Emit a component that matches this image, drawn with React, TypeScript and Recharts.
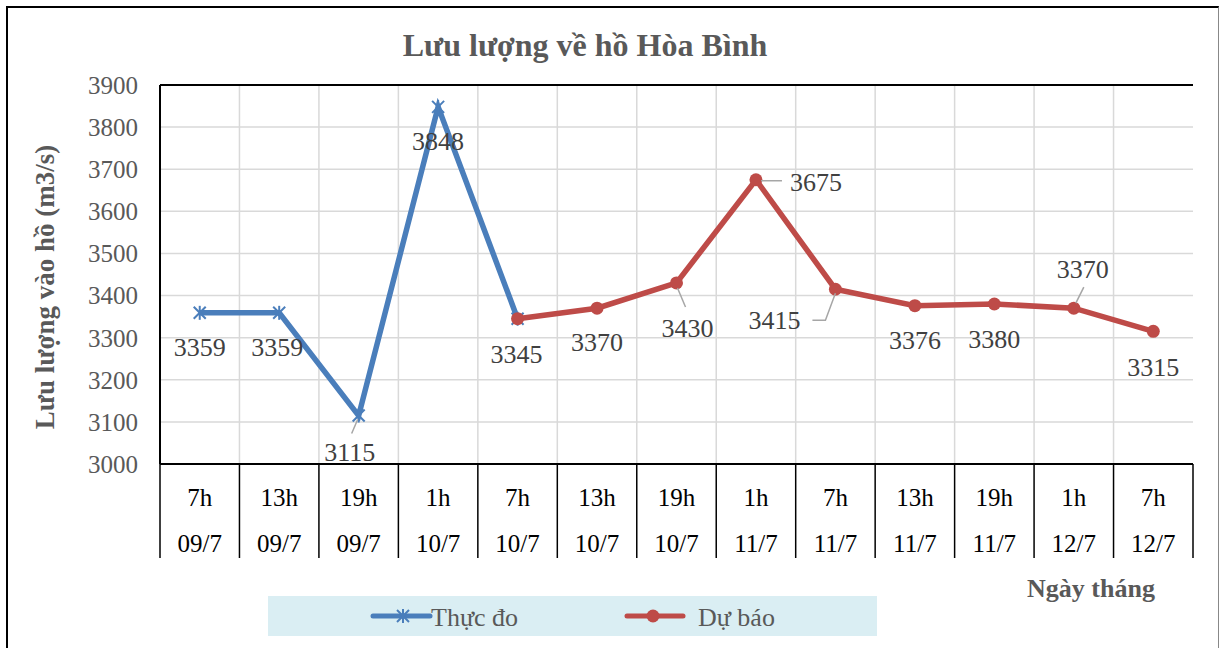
import React, { useEffect } from "react";
import {
	CartesianGrid,
	LabelList,
	Legend,
	Line,
	LineChart,
	ReferenceLine,
	XAxis,
	YAxis,
} from "recharts";

// categories: hour + date (two-level axis)
const hours = ["7h", "13h", "19h", "1h", "7h", "13h", "19h", "1h", "7h", "13h", "19h", "1h", "7h"];
const dates = ["09/7", "09/7", "09/7", "10/7", "10/7", "10/7", "10/7", "11/7", "11/7", "11/7", "11/7", "12/7", "12/7"];

// observed flow (m3/s)
const measured = [3359, 3359, 3115, 3848, 3345, null, null, null, null, null, null, null, null];
// forecast flow (m3/s)
const forecast = [null, null, null, null, 3345, 3370, 3430, 3675, 3415, 3376, 3380, 3370, 3315];

const yTicks = [3000, 3100, 3200, 3300, 3400, 3500, 3600, 3700, 3800, 3900];

const data = hours.map((h, i) => ({
	cat: `${h} ${dates[i]}`,
	hour: h,
	date: dates[i],
	measured: measured[i],
	forecast: forecast[i],
}));

// label offsets relative to the point: [dx, dy] of text centre, optional leader polyline
const labelPlacement: { dx: number; dy: number; leader?: number[][] }[] = [
	{ dx: 0, dy: 35 },
	{ dx: -2, dy: 35 },
	{ dx: -9, dy: 37, leader: [[-1, 4], [-7, 18]] },
	{ dx: 0, dy: 35 },
	{ dx: -1, dy: 36 },
	{ dx: 0, dy: 34 },
	{ dx: 11, dy: 46, leader: [[1, 5], [9, 24]] },
	{ dx: 60, dy: 3, leader: [[5, 1], [26, 1]] },
	{ dx: -61, dy: 31, leader: [[0, 4], [-10, 31], [-23, 31]] },
	{ dx: 0, dy: 35 },
	{ dx: 0, dy: 36 },
	{ dx: 9, dy: -39, leader: [[2, -5], [10, -21]] },
	{ dx: 0, dy: 36 },
];

const BLUE = "#4a7ebb";
const RED = "#be4b48";
const FONT = "'Liberation Serif', 'Times New Roman', serif";

const W = 1220;
const H = 648;
const M = { top: 85, right: 27, bottom: 90, left: 100 };
const PLOT_W = W - M.left - 60 - M.right;
const BAND = PLOT_W / hours.length;

function CategoryTick(props: any) {
	const { x, y, index } = props;
	const left = x - BAND / 2;
	const right = x + BAND / 2;
	return (
		<g>
			<line x1={left} y1={y} x2={left} y2={y + 94} stroke="#000" strokeWidth={1.5} />
			{index === hours.length - 1 && (
				<line x1={right} y1={y} x2={right} y2={y + 94} stroke="#000" strokeWidth={1.5} />
			)}
			<text x={x} y={y + 33} textAnchor="middle" dominantBaseline="central" fontSize={25} fill="#000" fontFamily={FONT}>
				{hours[index]}
			</text>
			<text x={x} y={y + 79} textAnchor="middle" dominantBaseline="central" fontSize={25} fill="#000" fontFamily={FONT}>
				{dates[index]}
			</text>
		</g>
	);
}

function StarDot(props: any) {
	const { cx, cy, value } = props;
	if (value == null || cx == null) return null;
	const s = 6;
	return (
		<g stroke={BLUE} strokeWidth={2}>
			<line x1={cx - s} y1={cy - s} x2={cx + s} y2={cy + s} />
			<line x1={cx - s} y1={cy + s} x2={cx + s} y2={cy - s} />
			<line x1={cx} y1={cy - s - 1} x2={cx} y2={cy + s + 1} />
		</g>
	);
}

function makeLabel(from: number, to: number) {
	return (props: any) => {
		const { x, y, value, index } = props;
		if (value == null || index < from || index > to) return null;
		const p = labelPlacement[index];
		return (
			<g>
				{p.leader && (
					<polyline
						points={p.leader.map(([a, b]) => `${x + a},${y + b}`).join(" ")}
						fill="none"
						stroke="#a6a6a6"
						strokeWidth={1.5}
					/>
				)}
				<text
					x={x + p.dx}
					y={y + p.dy}
					textAnchor="middle"
					dominantBaseline="central"
					fontSize={26}
					fill="#404040"
					fontFamily={FONT}
				>
					{value}
				</text>
			</g>
		);
	};
}

function LegendBox() {
	return (
		<svg width={609} height={40} style={{ display: "block", background: "#daeef3" }}>
			<line x1={105} y1={20} x2={162} y2={20} stroke={BLUE} strokeWidth={5} strokeLinecap="round" />
			<StarDot cx={135} cy={20} value={1} />
			<text x={163} y={21} dominantBaseline="central" fontSize={26} fill="#595959" fontFamily={FONT}>
				Thực đo
			</text>
			<line x1={359} y1={20} x2={415} y2={20} stroke={RED} strokeWidth={5} strokeLinecap="round" />
			<circle cx={385} cy={20} r={6.5} fill={RED} />
			<text x={430} y={21} dominantBaseline="central" fontSize={26} fill="#595959" fontFamily={FONT}>
				Dự báo
			</text>
		</svg>
	);
}

export default function App() {
	useEffect(() => {
		document.body.style.overflow = "hidden";
	}, []);

	return (
		<div style={{ position: "absolute", left: 0, top: 0, width: W, height: H, background: "#fff", fontFamily: FONT }}>
			<div
				style={{
					position: "absolute",
					left: 6,
					top: 6,
					width: 1210,
					height: 642,
					borderLeft: "2px solid #000",
					borderTop: "2px solid #000",
					borderRight: "1px solid #888",
				}}
			/>
			<div style={{ position: "absolute", left: 0, top: 0 }}>
				<LineChart width={W} height={H} data={data} margin={M}>
					<CartesianGrid
						stroke="#d9d9d9"
						strokeWidth={1.5}
						verticalCoordinatesGenerator={({ offset }: any) =>
							hours.slice(1).map((_, i) => offset.left + ((i + 1) * offset.width) / hours.length)
						}
					/>
					<XAxis
						dataKey="cat"
						interval={0}
						height={94}
						padding={{ left: BAND / 2, right: BAND / 2 }}
						tickLine={false}
						tickSize={0}
						tickMargin={0}
						axisLine={{ stroke: "#000", strokeWidth: 2 }}
						tick={<CategoryTick />}
					/>
					<YAxis
						domain={[3000, 3900]}
						ticks={yTicks}
						width={60}
						tickLine={false}
						tickSize={0}
						tickMargin={22}
						axisLine={{ stroke: "#000", strokeWidth: 2 }}
						tick={{ fill: "#595959", fontSize: 25, fontFamily: FONT }}
						label={{
							content: () => (
								<text
									x={45}
									y={287}
									transform="rotate(-90 45 287)"
									textAnchor="middle"
									dominantBaseline="central"
									fontSize={27}
									fontWeight="bold"
									fill="#595959"
									fontFamily={FONT}
								>
									Lưu lượng vào hồ (m3/s)
								</text>
							),
						}}
					/>
					<YAxis
						yAxisId="right"
						orientation="right"
						domain={[3000, 3900]}
						width={0}
						tick={false}
						tickLine={false}
						axisLine={{ stroke: "#000", strokeWidth: 2 }}
					/>
					<ReferenceLine y={3900} stroke="#000" strokeWidth={2} />
					<Legend
						layout="horizontal"
						verticalAlign="middle"
						align="center"
						wrapperStyle={{ left: 268, top: 596, width: 609, height: 40 }}
						content={() => <LegendBox />}
					/>
					<Line
						dataKey="measured"
						name="Thực đo"
						stroke={BLUE}
						strokeWidth={5.5}
						dot={<StarDot />}
						activeDot={false}
						isAnimationActive={false}
					>
						<LabelList dataKey="measured" content={makeLabel(0, 3)} />
					</Line>
					<Line
						dataKey="forecast"
						name="Dự báo"
						stroke={RED}
						strokeWidth={5.5}
						dot={{ r: 6.5, fill: RED, stroke: RED, strokeWidth: 0 }}
						activeDot={false}
						isAnimationActive={false}
					>
						<LabelList dataKey="forecast" content={makeLabel(4, 12)} />
					</Line>
					<text
						x={585}
						y={45}
						textAnchor="middle"
						dominantBaseline="central"
						fontSize={32}
						fontWeight="bold"
						fill="#595959"
						fontFamily={FONT}
					>
						Lưu lượng về hồ Hòa Bình
					</text>
					<text
						x={1091}
						y={588}
						textAnchor="middle"
						dominantBaseline="central"
						fontSize={26}
						fontWeight="bold"
						fill="#595959"
						fontFamily={FONT}
					>
						Ngày tháng
					</text>
				</LineChart>
			</div>
		</div>
	);
}
